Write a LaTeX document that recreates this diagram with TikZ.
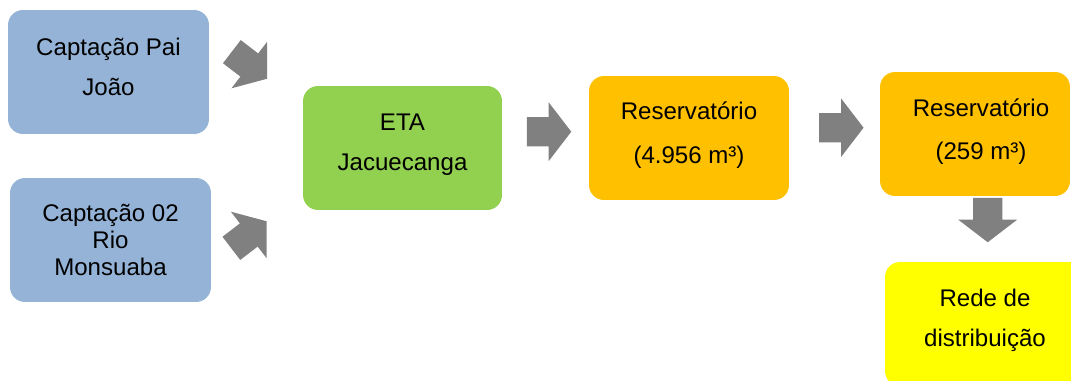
\documentclass[tikz,border=0pt]{standalone}
\usepackage{fontspec}
\setmainfont{Liberation Sans}
\usetikzlibrary{shapes.arrows}

\definecolor{capblue}{HTML}{95B3D7}
\definecolor{etagreen}{HTML}{92D050}
\definecolor{resorange}{HTML}{FFC000}
\definecolor{redeyellow}{HTML}{FFFF00}
\definecolor{flowgray}{HTML}{808080}

\begin{document}
\begin{tikzpicture}[x=0.02cm, y=-0.02cm,
		box/.style={shape=rectangle, rounded corners=0.3cm, minimum width=4.02cm, minimum height=2.48cm, inner sep=0},
		txt/.style={align=center, inner sep=0, font=\fontsize{13.7}{22.7}\selectfont},
		flow/.style={shape=single arrow, fill=flowgray, inner xsep=0, inner ysep=0.285cm, minimum height=0.89cm, single arrow head extend=0.295cm, single arrow tip angle=105, anchor=tip}]
				\useasboundingbox (0,0) rectangle (1071,380);
				\clip (0,0) rectangle (1071,380);
				\node[box, fill=capblue] (pai) at (108.5,72) {};
				\node[txt] (paitxt) at (108.5,66.5) {Captação Pai\\João};
				\node[box, fill=capblue] (rio) at (110.5,240) {};
				\node[txt, font=\fontsize{13.7}{15.6}\selectfont] (riotxt) at (110.5,240) {Captação 02\\Rio\\Monsuaba};
				\node[box, fill=etagreen, minimum width=3.98cm] (eta) at (402.5,148) {};
				\node[txt] (etatxt) at (402.5,144.5) {ETA\\Jacuecanga};
				\node[box, fill=resorange, minimum width=4cm] (res1) at (689,138) {};
				\node[txt, font=\fontsize{13.7}{25}\selectfont] (res1txt) at (689,135.5) {Reservatório\\(4.956 m³)};
				\node[box, fill=resorange, minimum width=3.8cm] (res2) at (975,134) {};
				\node[txt, font=\fontsize{13.7}{24.5}\selectfont] (res2txt) at (981,132) {Reservatório\\(259 m³)};
				\node[box, fill=redeyellow, minimum width=4cm] (rede) at (985,324) {};
				\node[txt] (redetxt) at (985,320.5) {Rede de\\distribuição};
				\node[flow, rotate=-37.5] (f1) at (267.5,79) {};
				\node[flow, rotate=37.5] (f2) at (267,221) {};
				\node[flow] (f3) at (571.7,131.7) {};
				\node[flow] (f4) at (864,127.7) {};
				\node[flow, rotate=-90] (f5) at (987.7,242.7) {};
			\end{tikzpicture}
\end{document}
